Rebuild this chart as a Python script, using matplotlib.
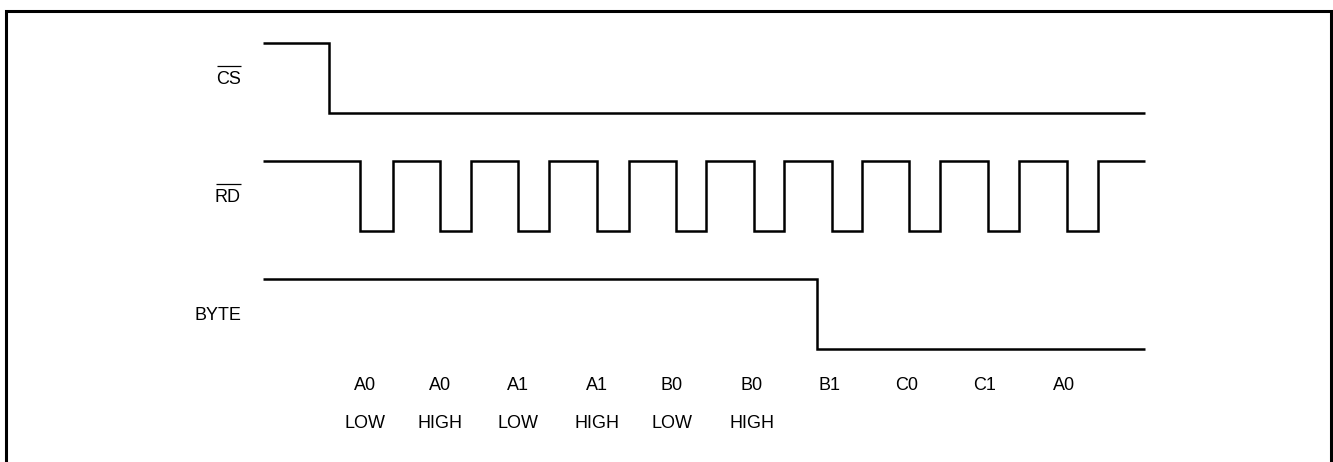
import matplotlib
matplotlib.use("Agg")
import matplotlib.pyplot as plt

plt.rcParams['font.family'] = ['Liberation Sans', 'DejaVu Sans']

# ---- data (time axis in pixel-like units) ----
signal_names = ['CS', 'RD', 'BYTE']
signal_active_low = [True, True, False]

cs_edges = [263, 329, 1145]
cs_levels = [1, 0]

rd_falls = [360, 440, 518, 597, 676, 754, 832, 909, 988, 1067]
rd_rises = [393, 471, 549, 629, 706, 784, 862, 940, 1019, 1098]
rd_start, rd_end = 263, 1145

byte_edges = [263, 817, 1145]
byte_levels = [1, 0]

byte_labels = ['A0', 'A0', 'A1', 'A1', 'B0', 'B0', 'B1', 'C0', 'C1', 'A0']
byte_label_x = [365, 440, 518, 597, 672, 752, 829, 907, 985, 1064]
half_labels = ['LOW', 'HIGH', 'LOW', 'HIGH', 'LOW', 'HIGH']

# ---- build step traces ----
def step_trace(edges, levels):
    xs, ys = [], []
    for i, lv in enumerate(levels):
        xs += [edges[i], edges[i + 1]]
        ys += [lv, lv]
    return xs, ys

cs_x, cs_y = step_trace(cs_edges, cs_levels)

rd_edges = [rd_start]
rd_lv = []
for f, r in zip(rd_falls, rd_rises):
    rd_edges += [f, r]
    rd_lv += [1, 0]
rd_edges.append(rd_end)
rd_lv.append(1)
rd_x, rd_y = step_trace(rd_edges, rd_lv)

byte_x, byte_y = step_trace(byte_edges, byte_levels)

traces = [(cs_x, cs_y), (rd_x, rd_y), (byte_x, byte_y)]

# ---- layout ----
W, H = 1333, 462
fig = plt.figure(figsize=(W / 100, H / 100), dpi=100)
ax = fig.add_axes([0, 0, 1, 1])
ax.set_xlim(0, W)
ax.set_ylim(H, 0)
ax.axis('off')

row_low = [113, 231, 349]
amp = 70
lw = 1.8
fs = 13

name_texts = []
for (xs, ys), base, name in zip(traces, row_low, signal_names):
    ax.plot(xs, [base - amp * v for v in ys], color='black', lw=lw,
            solid_joinstyle='miter', solid_capstyle='butt')
    t = ax.text(241, base - amp / 2 + 1, name, ha='right', va='center',
                fontsize=fs, color='black')
    name_texts.append(t)

for lab, x in zip(byte_labels, byte_label_x):
    ax.text(x, 386, lab, ha='center', va='center', fontsize=fs)
for lab, x in zip(half_labels, byte_label_x):
    ax.text(x, 423, lab, ha='center', va='center', fontsize=fs)

# overlines for active-low signal names
fig.canvas.draw()
r = fig.canvas.get_renderer()
for t, al in zip(name_texts, signal_active_low):
    if not al:
        continue
    bb = t.get_window_extent(r)
    (x0, y0), (x1, y1) = ax.transData.inverted().transform([[bb.x0, bb.y0], [bb.x1, bb.y1]])
    ytop = min(y0, y1)
    ax.plot([x0 + 1, x1], [ytop - 5, ytop - 5], color='black', lw=0.9,
            solid_capstyle='butt')

# frame (open at bottom)
ax.plot([6, 6, 1331, 1331], [H + 5, 11, 11, H + 5], color='black', lw=2.2,
        solid_joinstyle='miter', clip_on=False)

fig.savefig('out.png', dpi=100, facecolor='white')
